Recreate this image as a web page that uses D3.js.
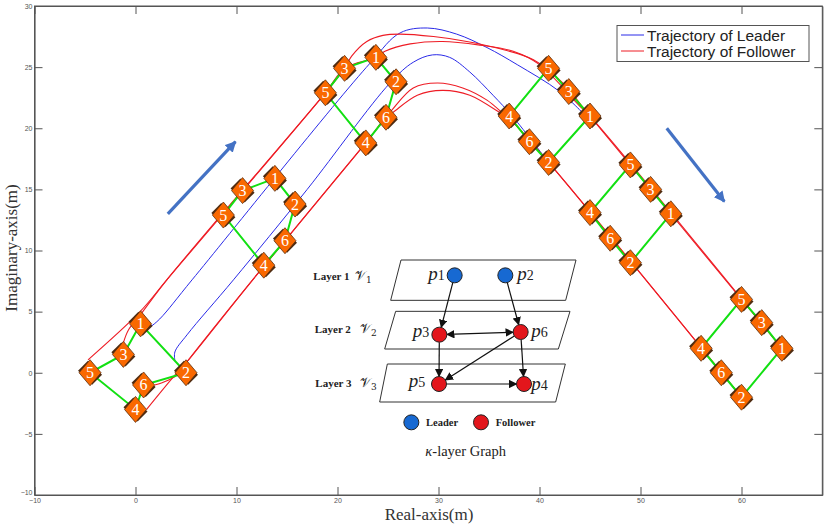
<!DOCTYPE html>
<html><head><meta charset="utf-8">
<script src="https://cdn.jsdelivr.net/npm/d3@7"></script>
<style>html,body{margin:0;padding:0;background:#fff}svg{display:block}</style>
</head><body><svg id="c" width="830" height="527"></svg>
<script>
const xTicks = [-10,0,10,20,30,40,50,60];
const yTicks = [-10,-5,0,5,10,15,20,25,30];
const legendLabels = ["Trajectory of Leader","Trajectory of Follower"];
const leader1 = [[0.9,3.4],[1.4,3.7],[2.4,4.4],[5.6,7.6],[23.2,25.3],[26.2,27.8],[28.9,28.2],[31.8,27.7],[34.8,26.6],[37.8,25.2],[42,23.0],[44.7,20.9]];
const leader2 = [[3.9,1.0],[3.9,1.7],[5.1,3.1],[9.7,7.6],[17,15],[25.2,23.7],[27.5,25.4],[29.4,26.0],[31.1,25.8],[33.1,24.6],[35.4,22.7],[37.4,20.9],[40.9,17.2]];
const follower5 = [[-4.7,1.06],[0.45,5],[3.1,7.6],[18.8,22.9],[20.7,24.9],[21.4,25.9],[22.9,27.1],[24.5,27.6],[26.2,27.7],[29.5,27.5],[32.8,27.1],[36.1,26.5],[39.4,25.6],[42.3,23.7],[45,21],[64,2]];
const follower3 = [[-1.2,2.45],[-0.7,3.5],[0.45,4.7],[3.1,7.6],[18.8,22.9],[20.7,24.9],[23.8,25.8],[24.7,26.3],[27.2,26.9],[30.4,27.1],[34.1,26.8],[37.4,26.3],[40,25.2],[44,21.8],[45,21],[64,2]];
const follower4 = [[1.1,-3],[3.9,-0.2],[5.1,0.9],[11.6,7.6],[22.8,18.8],[24.8,20.9],[25.5,21.3],[27.9,22.7],[30.4,23.1],[33.1,22.7],[36.4,21.1],[37,20.8],[40.9,17.2],[60,-2]];
const follower6 = [[1.9,-1],[2.7,-0.8],[4.1,-0.2],[5.1,0.9],[11.6,7.6],[22.8,18.8],[24.8,20.9],[25.4,21.5],[27.5,23.3],[29.9,23.7],[32.4,23.3],[34.8,22.3],[36.4,21.2],[37,20.8],[40.9,17.2],[60,-2]];
// each row: agent positions for agents 1..6
const formations = [
 {1:[0.5,4],2:[5,0],3:[-1.2,1.5],4:[0,-3],5:[-4.5,0],6:[0.8,-1]},
 {1:[13.8,15.9],2:[15.8,13.8],3:[10.6,14.9],4:[12.7,8.8],5:[8.7,12.9],6:[14.8,10.8]},
 {1:[23.8,25.8],2:[25.8,23.8],3:[20.7,24.9],4:[22.8,18.8],5:[18.8,22.9],6:[24.8,20.9]},
 {1:[45,21],2:[40.9,17.2],3:[42.9,23],4:[37,21],5:[40.9,24.9],6:[39,18.9]},
 {1:[53,13],2:[49,9],3:[51,15],4:[45,13.1],5:[49,17],6:[47,11]},
 {1:[64,2],2:[60,-2],3:[62,4.1],4:[56,2],5:[60,6],6:[58,0]}
];
const ring = [1,3,5,4,6,2,1];
const headingArrows = [[[3.2,13],[9.9,18.9]],[[52.6,20],[58.3,14]]];
// inset graph, in inset units
const layers = [
 {label:"Layer 1",sub:"1",lx:40,ly:90,vx:165,pts:[[303,30],[828,30],[797,151],[272,151]]},
 {label:"Layer 2",sub:"2",lx:44,ly:250,vx:180,pts:[[287,184],[810,184],[775,297],[254,297]]},
 {label:"Layer 3",sub:"3",lx:46,ly:411,vx:180,pts:[[262,342],[796,342],[767,456],[239,456]]}
];
const graphNodes = {
 p1:{x:464,y:76,t:"L",lx:385,ly:90,n:"1"},
 p2:{x:616,y:76,t:"L",lx:652,ly:90,n:"2"},
 p3:{x:418,y:254,t:"F",lx:338,ly:262,n:"3"},
 p6:{x:662,y:246,t:"F",lx:694,ly:262,n:"6"},
 p5:{x:417,y:402,t:"F",lx:326,ly:412,n:"5"},
 p4:{x:672,y:402,t:"F",lx:694,ly:420,n:"4"}
};
const graphEdges = [["p1","p3"],["p2","p6"],["p3","p6",true],["p3","p5"],["p6","p5"],["p6","p4"],["p5","p4"]];

const svg = d3.select("#c");
const x = d3.scaleLinear().domain([-10,68]).range([34.5,822.3]);
const y = d3.scaleLinear().domain([-10,30]).range([495,6]);
const ix = d3.scaleLinear().domain([0,870]).range([300,590]);
const iy = d3.scaleLinear().domain([0,645]).range([250,465]);
const AX = "#555";
const serif = "'Liberation Serif',serif", sans = "'Liberation Sans',sans-serif";

const defs = svg.append("defs");
[["ab","#4472c4",3.2],["ak","#111",7]].forEach(([id,c])=>{
  defs.append("marker").attr("id",id).attr("viewBox","0 0 10 10").attr("refX",9).attr("refY",5)
   .attr("markerUnits","userSpaceOnUse").attr("markerWidth",id=="ab"?11:8.5).attr("markerHeight",id=="ab"?11:8.5)
   .attr("orient","auto-start-reverse").append("path").attr("d","M0,0L10,5L0,10Z").attr("fill",c);
});

// axes
svg.append("rect").attr("x",x.range()[0]).attr("y",y.range()[1])
  .attr("width",x.range()[1]-x.range()[0]).attr("height",y.range()[0]-y.range()[1])
  .attr("fill","none").attr("stroke",AX).attr("stroke-width",1);
function styleAxis(g){
  g.selectAll(".domain").attr("stroke",AX).attr("stroke-width",1.2);
  g.selectAll(".tick line").attr("stroke",AX).attr("stroke-width",1);
  g.selectAll("text").attr("fill","#555").attr("font-family",sans).attr("font-size",7);
}
svg.append("g").attr("transform",`translate(0,${y(-10)})`).call(d3.axisBottom(x).tickValues(xTicks).tickSize(-8).tickSizeOuter(0).tickPadding(3)).call(styleAxis);
svg.append("g").attr("transform",`translate(${x(-10)},0)`).call(d3.axisLeft(y).tickValues(yTicks).tickSize(-8).tickSizeOuter(0).tickPadding(2)).call(g=>{
  styleAxis(g);
  g.selectAll(".tick text").filter(d=>d===-10).attr("dy","-0.1em");
});
svg.append("g").attr("transform",`translate(0,${y(30)})`).call(d3.axisTop(x).tickValues(xTicks).tickSize(-8).tickSizeOuter(0).tickFormat("")).call(styleAxis);
svg.append("g").attr("transform",`translate(${x(68)},0)`).call(d3.axisRight(y).tickValues(yTicks).tickSize(-8).tickSizeOuter(0).tickFormat("")).call(styleAxis);

svg.append("text").attr("x",429).attr("y",520).attr("text-anchor","middle").attr("font-family",serif).attr("font-size",17).attr("fill","#333").text("Real-axis(m)");
svg.append("text").attr("transform","translate(17,248) rotate(-90)").attr("text-anchor","middle").attr("font-family",serif).attr("font-size",17).attr("fill","#333").text("Imaginary-axis(m)");

// trajectories
const line = d3.line().x(d=>x(d[0])).y(d=>y(d[1])).curve(d3.curveCatmullRom.alpha(0.5));
[leader1,leader2].forEach(p=>svg.append("path").attr("d",line(p)).attr("fill","none").attr("stroke","#2a2ae8").attr("stroke-width",1));
[follower5,follower3,follower4,follower6].forEach(p=>svg.append("path").attr("d",line(p)).attr("fill","none").attr("stroke","#ee1c25").attr("stroke-width",1.1));

// formations
formations.forEach(f=>{
  svg.append("path").attr("d",d3.line().x(a=>x(f[a][0])).y(a=>y(f[a][1]))(ring))
    .attr("fill","none").attr("stroke","#12e012").attr("stroke-width",2);
});
formations.forEach(f=>{
  d3.range(1,7).forEach(a=>{
    const g = svg.append("g").attr("transform",`translate(${x(f[a][0])},${y(f[a][1])})`);
    g.append("g").attr("transform","rotate(-45)").selectAll("rect").data([-1,1]).join("rect")
      .attr("x",-7).attr("width",14).attr("y",d=>d<0?-10:7).attr("height",3).attr("fill","#4d2a10");
    g.append("path").attr("d","M0,-13L11,0L0,13L-11,0Z").attr("fill","#f96800").attr("stroke","#5a3010").attr("stroke-width",0.8);
    g.append("text").attr("text-anchor","middle").attr("y",5.5).attr("font-family",serif).attr("font-size",16).attr("fill","#fff").text(a);
  });
});

// heading arrows
headingArrows.forEach(a=>{
  svg.append("path").attr("d",d3.line().x(d=>x(d[0])).y(d=>y(d[1]))(a)).attr("stroke","#4472c4").attr("stroke-width",3.2).attr("fill","none").attr("marker-end","url(#ab)");
});

// legend
svg.append("rect").attr("x",617).attr("y",25.5).attr("width",192).attr("height",36).attr("fill","#fff").attr("stroke",AX).attr("stroke-width",1);
legendLabels.forEach((t,i)=>{
  const yy = 35+i*16;
  svg.append("line").attr("x1",621).attr("x2",644).attr("y1",yy).attr("y2",yy).attr("stroke",i?"#ee1c25":"#2a2ae8").attr("stroke-width",1);
  svg.append("text").attr("x",647).attr("y",yy+5.5).attr("font-family",sans).attr("font-size",15.5).attr("fill","#222").text(t);
});

// inset
layers.forEach(l=>{
  svg.append("polygon").attr("points",l.pts.map(p=>[ix(p[0]),iy(p[1])].join(",")).join(" ")).attr("fill","#fff").attr("stroke","#333").attr("stroke-width",1);
  svg.append("text").attr("x",ix(l.lx)).attr("y",iy(l.ly)).attr("font-family",serif).attr("font-weight","bold").attr("font-size",11).attr("fill","#222").text(l.label);
  const v = svg.append("text").attr("x",ix(l.vx)).attr("y",iy(l.ly)).attr("font-family","'DejaVu Serif',serif").attr("font-size",13).attr("fill","#222");
  v.append("tspan").text("𝒱");
  v.append("tspan").attr("dy",3).attr("font-size",9).text(l.sub);
});
const NR = 7.5;
graphEdges.forEach(([a,b,both])=>{
  const A=graphNodes[a],B=graphNodes[b];
  const x1=ix(A.x),y1=iy(A.y),x2=ix(B.x),y2=iy(B.y),L=Math.hypot(x2-x1,y2-y1),ux=(x2-x1)/L,uy=(y2-y1)/L;
  const s=svg.append("line").attr("x1",x1+ux*NR).attr("y1",y1+uy*NR).attr("x2",x2-ux*NR).attr("y2",y2-uy*NR)
    .attr("stroke","#111").attr("stroke-width",1.2).attr("marker-end","url(#ak)");
  if(both) s.attr("marker-start","url(#ak)");
});
Object.values(graphNodes).forEach(n=>{
  svg.append("circle").attr("cx",ix(n.x)).attr("cy",iy(n.y)).attr("r",NR).attr("fill",n.t=="L"?"#1769d2":"#e3161c").attr("stroke","#222").attr("stroke-width",1);
  const t=svg.append("text").attr("x",ix(n.lx)).attr("y",iy(n.ly)).attr("font-family",serif).attr("font-size",19).attr("fill","#222");
  t.append("tspan").attr("font-style","italic").text("p");
  t.append("tspan").attr("font-size",14).text(n.n);
});
[[334,"L","Leader",378],[543,"F","Follower",587]].forEach(([cx,k,lab,tx])=>{
  svg.append("circle").attr("cx",ix(cx)).attr("cy",iy(517)).attr("r",NR).attr("fill",k=="L"?"#1769d2":"#e3161c").attr("stroke","#222").attr("stroke-width",1);
  svg.append("text").attr("x",ix(tx)).attr("y",iy(527)).attr("font-family",serif).attr("font-weight","bold").attr("font-size",10.5).attr("fill","#222").text(lab);
});
const kt=svg.append("text").attr("x",ix(497)).attr("y",iy(618)).attr("text-anchor","middle").attr("font-family",serif).attr("font-size",14.5).attr("fill","#222");
kt.append("tspan").attr("font-style","italic").text("κ");
kt.append("tspan").text("-layer Graph");
</script></body></html>
